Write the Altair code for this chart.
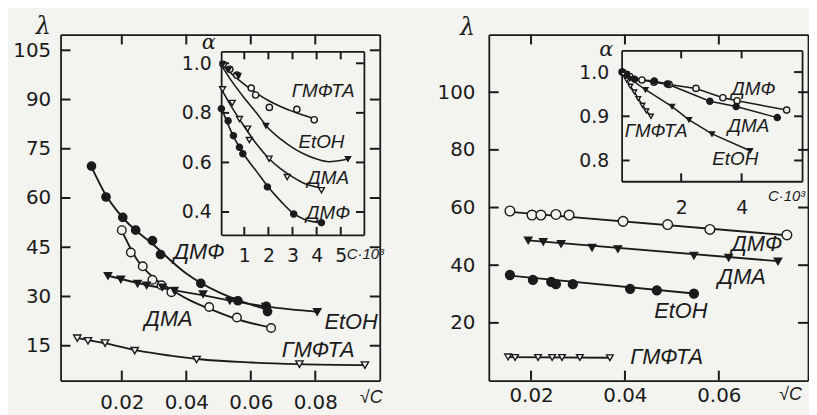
import altair as alt
import pandas as pd

W, H = 808, 407
BG = "#f3f3f0"
INK = "#1b1b1b"
NUM_FONT = "DejaVu Sans"
TXT_FONT = "Liberation Sans Narrow, Liberation Sans, Arial"
GREEK_FONT = "DejaVu Serif"

# ---------------- Panel A (left): lambda vs sqrt(C) ----------------
A_DMF_X = [0.0106, 0.0151, 0.0203, 0.0243, 0.0295, 0.0320, 0.0445, 0.0560, 0.0648, 0.0652]
A_DMF_Y = [69.7, 60.3, 54.1, 50.2, 47.0, 42.8, 34.0, 28.7, 27.0, 25.4]
A_DMA_X = [0.0200, 0.0228, 0.0265, 0.0295, 0.0323, 0.0354, 0.0471, 0.0557, 0.0663]
A_DMA_Y = [50.2, 43.4, 39.2, 35.1, 33.4, 31.3, 26.8, 23.6, 20.4]
A_ETOH_X = [0.0157, 0.0197, 0.0249, 0.0277, 0.0326, 0.0363, 0.0452, 0.0535, 0.0646, 0.0806]
A_ETOH_Y = [36.3, 35.2, 33.9, 33.4, 32.8, 31.8, 30.7, 28.7, 26.9, 25.3]
A_HMPTA_X = [0.0062, 0.0095, 0.0148, 0.0240, 0.0432, 0.0751, 0.0954]
A_HMPTA_Y = [17.3, 16.5, 15.8, 13.5, 10.8, 9.4, 9.1]

# fitted curves
A_DMF_CX = [0.0106, 0.015, 0.020, 0.030, 0.040, 0.050, 0.058, 0.066]
A_DMF_CY = [69.5, 61.0, 54.3, 45.6, 37.0, 31.3, 28.2, 25.8]
A_DMA_CX = [0.0200, 0.0250, 0.0300, 0.0355, 0.0410, 0.0473, 0.0550, 0.0663]
A_DMA_CY = [50.0, 40.8, 35.6, 32.0, 28.9, 26.2, 23.3, 20.5]
A_ETOH_CX = [0.0155, 0.025, 0.035, 0.045, 0.055, 0.065, 0.081]
A_ETOH_CY = [36.4, 34.1, 32.1, 30.4, 28.5, 26.9, 25.3]
A_HMPTA_CX = [0.0060, 0.015, 0.025, 0.035, 0.045, 0.060, 0.075, 0.096]
A_HMPTA_CY = [17.4, 15.7, 13.5, 12.0, 10.8, 9.9, 9.4, 9.1]

A_LABELS = ["ДМФ", "ДМА", "EtOH", "ГМФТА"]
A_LABEL_X = [0.0440, 0.0345, 0.0911, 0.0809]
A_LABEL_Y = [43.4, 23.2, 22.1, 13.8]

# ---------------- Inset of panel A: alpha vs C*10^3 ----------------
IA_HMPTA_X = [0.12, 0.40, 0.69, 1.29, 1.47, 2.04, 3.18, 3.90]
IA_HMPTA_Y = [0.996, 0.976, 0.952, 0.900, 0.872, 0.822, 0.814, 0.772]
IA_ETOH_X = [0.10, 0.35, 0.75, 1.90, 5.30]
IA_ETOH_Y = [0.995, 0.975, 0.950, 0.748, 0.614]
IA_DMA_X = [0.10, 0.50, 0.80, 1.14, 1.21, 2.03, 2.78, 4.20]
IA_DMA_Y = [0.895, 0.840, 0.775, 0.736, 0.690, 0.615, 0.541, 0.488]
IA_DMF_X = [0.05, 0.33, 0.55, 0.80, 0.94, 1.96, 3.05, 4.20]
IA_DMF_Y = [0.817, 0.768, 0.708, 0.661, 0.635, 0.501, 0.392, 0.357]

IA_HMPTA_CX = [0.0, 0.5, 1.0, 1.5, 2.0, 2.5, 3.0, 3.5, 3.9]
IA_HMPTA_CY = [1.0, 0.955, 0.915, 0.880, 0.850, 0.826, 0.806, 0.789, 0.776]
IA_ETOH_CX = [0.0, 0.5, 1.0, 1.5, 2.0, 2.5, 3.0, 3.5, 4.0, 4.5, 5.3]
IA_ETOH_CY = [1.0, 0.925, 0.860, 0.800, 0.738, 0.695, 0.660, 0.633, 0.614, 0.603, 0.614]
IA_DMA_CX = [0.0, 0.5, 1.0, 1.5, 2.0, 2.5, 3.0, 3.5, 4.2]
IA_DMA_CY = [0.905, 0.820, 0.745, 0.675, 0.618, 0.575, 0.542, 0.515, 0.497]
IA_DMF_CX = [0.05, 0.5, 1.0, 1.5, 2.0, 2.5, 3.0, 3.5, 4.2]
IA_DMF_CY = [0.820, 0.715, 0.630, 0.565, 0.500, 0.445, 0.397, 0.370, 0.357]

IA_LABELS = ["ГМФТА", "EtOH", "ДМА", "ДМФ"]
IA_LABEL_X = [4.27, 4.20, 4.48, 4.48]
IA_LABEL_Y = [0.888, 0.681, 0.535, 0.397]

# ---------------- Panel B (right): lambda vs sqrt(C) ----------------
B_DMF_X = [0.0155, 0.0202, 0.0221, 0.0253, 0.0281, 0.0396, 0.0491, 0.0581, 0.0745]
B_DMF_Y = [58.8, 57.4, 57.4, 57.6, 57.4, 55.2, 54.1, 52.4, 50.5]
B_DMA_X = [0.0194, 0.0226, 0.0264, 0.0330, 0.0385, 0.0547, 0.0621, 0.0726]
B_DMA_Y = [48.6, 48.1, 47.4, 46.1, 45.6, 43.3, 42.6, 41.3]
B_ETOH_X = [0.0155, 0.0204, 0.0243, 0.0253, 0.0289, 0.0411, 0.0468, 0.0547]
B_ETOH_Y = [36.6, 34.9, 34.2, 33.4, 33.4, 31.8, 31.3, 30.1]
B_HMPTA_X = [0.0151, 0.0166, 0.0215, 0.0245, 0.0266, 0.0304, 0.0368]
B_HMPTA_Y = [8.2, 8.0, 8.0, 8.0, 8.0, 8.0, 7.9]

B_DMF_CX = [0.0155, 0.0745]
B_DMF_CY = [58.5, 50.4]
B_DMA_CX = [0.0194, 0.0726]
B_DMA_CY = [48.6, 41.4]
B_ETOH_CX = [0.0155, 0.0547]
B_ETOH_CY = [36.4, 30.2]
B_HMPTA_CX = [0.0151, 0.0368]
B_HMPTA_CY = [8.1, 7.9]

B_LABELS = ["ДМФ", "ДМА", "EtOH", "ГМФТА"]
B_LABEL_X = [0.0681, 0.0649, 0.0519, 0.0489]
B_LABEL_Y = [47.4, 35.8, 24.1, 8.3]

# ---------------- Inset of panel B ----------------
IB_DMF_X = [0.05, 0.30, 0.70, 1.10, 1.60, 2.49, 3.38, 3.85, 5.49]
IB_DMF_Y = [1.000, 0.990, 0.982, 0.977, 0.972, 0.963, 0.942, 0.935, 0.914]
IB_DMA_X = [0.05, 0.20, 0.46, 1.11, 1.54, 2.95, 3.82, 5.18]
IB_DMA_Y = [1.000, 0.995, 0.984, 0.980, 0.973, 0.934, 0.922, 0.897]
IB_ETOH_X = [0.05, 0.30, 0.82, 1.70, 2.26, 3.02, 4.28]
IB_ETOH_Y = [1.000, 0.985, 0.960, 0.922, 0.892, 0.860, 0.822]
IB_HMPTA_X = [0.08, 0.20, 0.32, 0.45, 0.58, 0.72, 0.85, 1.00]
IB_HMPTA_Y = [0.995, 0.982, 0.968, 0.955, 0.940, 0.925, 0.912, 0.900]

IB_LABELS = ["ДМФ", "ДМА", "ГМФТА", "EtOH"]
IB_LABEL_X = [4.39, 4.23, 1.17, 3.79]
IB_LABEL_Y = [0.961, 0.879, 0.867, 0.804]

# ---------------- styling / layout ----------------
STYLES = {
    "filled_circle": ("circle", INK),
    "open_circle": ("circle", BG),
    "filled_tri": ("triangle-down", INK),
    "open_tri": ("triangle-down", BG),
}

BOX_A = dict(xdom=[0.001, 0.100], xrng=[53, 375], ydom=[4.4, 109.8], yrng=[374, 25],
             xvals=[0.02, 0.04, 0.06, 0.08], yvals=[15, 30, 45, 60, 75, 90, 105],
             xfmt=".2f", yfmt="d", fs=20, tick=10, xpad=12, ypad=10,
             xtitle="√C", xtx=366, xty=17, ytitle="λ", ytx=-18, yty=17, ysz=24, xsz=18)
BOX_IA = dict(xdom=[0.04, 5.96], xrng=[215, 359], ydom=[0.308, 1.048], yrng=[227, 42],
              xvals=[1, 2, 3, 4, 5], yvals=[0.4, 0.6, 0.8, 1.0],
              xfmt="d", yfmt=".1f", fs=19, tick=8, xpad=12, ypad=10,
              xtitle="C·10³", xtx=360, xty=19, ytitle="α", ytx=-13, yty=33, ysz=21, xsz=15)
BOX_B = dict(xdom=[0.011, 0.079], xrng=[485, 807], ydom=[0, 120], yrng=[374, 25],
             xvals=[0.02, 0.04, 0.06], yvals=[20, 40, 60, 80, 100],
             xfmt=".2f", yfmt="d", fs=20, tick=10, xpad=5, ypad=14,
             xtitle="√C", xtx=789, xty=14, ytitle="λ", ytx=-22, yty=18, ysz=24, xsz=18)
BOX_IB = dict(xdom=[0.03, 6.0], xrng=[619, 801], ydom=[0.753, 1.049], yrng=[173, 41],
              xvals=[2, 4], yvals=[0.8, 0.9, 1.0],
              xfmt="d", yfmt=".1f", fs=19, tick=8, xpad=18, ypad=13,
              xtitle="C·10³", xtx=785, xty=14, ytitle="α", ytx=-16, yty=40, ysz=21, xsz=15)


def axes(box, kind):
    xL, xR = box["xrng"]
    yB, yT = box["yrng"]
    common = dict(grid=False, ticks=False, domainColor=INK, domainWidth=1.8,
                  labelColor=INK, labelFont=NUM_FONT, labelFontSize=box["fs"])
    if kind == "labels":
        ax = alt.Axis(orient="bottom", offset=yB - H, values=box["xvals"], format=box["xfmt"],
                      labelPadding=box["xpad"], title=box["xtitle"],
                      titleX=box["xtx"], titleY=box["xty"], titleAngle=0, titleAlign="center",
                      titleBaseline="middle", titleFont=TXT_FONT, titleFontSize=box["xsz"],
                      titleFontStyle="italic", titleFontWeight="normal", titleColor=INK, **common)
        ay = alt.Axis(orient="left", offset=-xL, values=box["yvals"], format=box["yfmt"],
                      labelPadding=box["ypad"], title=box["ytitle"],
                      titleX=box["ytx"], titleY=box["yty"], titleAngle=0, titleAlign="center",
                      titleBaseline="middle", titleFont=GREEK_FONT, titleFontSize=box["ysz"],
                      titleFontStyle="italic", titleFontWeight="normal", titleColor=INK, **common)
    else:
        ax = alt.Axis(orient="bottom", offset=yT - H, values=box["xvals"], labels=False,
                      title=None, **common)
        ay = alt.Axis(orient="left", offset=-xR, values=box["yvals"], labels=False,
                      title=None, **common)
    return ax, ay


def points_df(specs):
    rows = []
    for name, xs, ys, style, size in specs:
        shape, fill = STYLES[style]
        for x, y in zip(xs, ys):
            rows.append(dict(x=x, y=y, series=name, shape=shape, fill=fill, size=size))
    return pd.DataFrame(rows)


def curves_df(specs):
    rows = []
    for name, xs, ys in specs:
        for i, (x, y) in enumerate(zip(xs, ys)):
            rows.append(dict(x=x, y=y, series=name, i=i))
    return pd.DataFrame(rows)


def ticks_df(box):
    # inward tick segments at the tick values on all four sides of a frame
    x0, x1 = box["xdom"]
    y0, y1 = box["ydom"]
    xL, xR = box["xrng"]
    yB, yT = box["yrng"]
    t = box["tick"]
    dx = t * (x1 - x0) / (xR - xL)
    dy = t * (y1 - y0) / (yB - yT)
    rows = []
    k = 0
    for v in box["xvals"]:
        for a, b in [(y0, y0 + dy), (y1, y1 - dy)]:
            rows += [dict(x=v, y=a, id=k, i=0), dict(x=v, y=b, id=k, i=1)]
            k += 1
    for v in box["yvals"]:
        for a, b in [(x0, x0 + dx), (x1, x1 - dx)]:
            rows += [dict(x=a, y=v, id=k, i=0), dict(x=b, y=v, id=k, i=1)]
            k += 1
    return pd.DataFrame(rows)


def box_layers(box, pts, curves, labels, interp, lab_size, lw):
    xs = alt.Scale(domain=box["xdom"], range=box["xrng"], nice=False, zero=False)
    ys = alt.Scale(domain=box["ydom"], range=box["yrng"], nice=False, zero=False)
    ax1, ay1 = axes(box, "labels")
    ax3, ay3 = axes(box, "far")
    lines = alt.Chart(curves_df(curves)).mark_line(
        color=INK, strokeWidth=lw, interpolate=interp
    ).encode(
        x=alt.X("x:Q", scale=xs, axis=ax1),
        y=alt.Y("y:Q", scale=ys, axis=ay1),
        detail="series:N",
        order="i:Q",
    )
    ticks = alt.Chart(ticks_df(box)).mark_line(
        color=INK, strokeWidth=2.0, interpolate="linear"
    ).encode(
        x=alt.X("x:Q", scale=xs, axis=None),
        y=alt.Y("y:Q", scale=ys, axis=None),
        detail="id:N",
        order="i:Q",
    )
    points = alt.Chart(points_df(pts)).mark_point(
        opacity=1, stroke=INK, strokeWidth=1.4
    ).encode(
        x=alt.X("x:Q", scale=xs, axis=None),
        y=alt.Y("y:Q", scale=ys, axis=None),
        shape=alt.Shape("shape:N", scale=None),
        fill=alt.Fill("fill:N", scale=None),
        size=alt.Size("size:Q", scale=None),
    )
    names, lx, ly = labels
    texts = alt.Chart(pd.DataFrame({"text": names, "x": lx, "y": ly})).mark_text(
        font=TXT_FONT, fontSize=lab_size, fontStyle="italic", color=INK
    ).encode(
        x=alt.X("x:Q", scale=xs, axis=ax3),
        y=alt.Y("y:Q", scale=ys, axis=ay3),
        text="text:N",
    )
    return [lines, ticks, points, texts]


layers = []
layers += box_layers(
    BOX_A,
    [("ДМФ", A_DMF_X, A_DMF_Y, "filled_circle", 70),
     ("ДМА", A_DMA_X, A_DMA_Y, "open_circle", 75),
     ("EtOH", A_ETOH_X, A_ETOH_Y, "filled_tri", 55),
     ("ГМФТА", A_HMPTA_X, A_HMPTA_Y, "open_tri", 55)],
    [("ДМФ", A_DMF_CX, A_DMF_CY), ("ДМА", A_DMA_CX, A_DMA_CY),
     ("EtOH", A_ETOH_CX, A_ETOH_CY), ("ГМФТА", A_HMPTA_CX, A_HMPTA_CY)],
    (A_LABELS, A_LABEL_X, A_LABEL_Y), "monotone", 22, 1.9)
layers += box_layers(
    BOX_IA,
    [("ГМФТА", IA_HMPTA_X, IA_HMPTA_Y, "open_circle", 40),
     ("EtOH", IA_ETOH_X, IA_ETOH_Y, "filled_tri", 28),
     ("ДМА", IA_DMA_X, IA_DMA_Y, "open_tri", 36),
     ("ДМФ", IA_DMF_X, IA_DMF_Y, "filled_circle", 38)],
    [("ГМФТА", IA_HMPTA_CX, IA_HMPTA_CY), ("EtOH", IA_ETOH_CX, IA_ETOH_CY),
     ("ДМА", IA_DMA_CX, IA_DMA_CY), ("ДМФ", IA_DMF_CX, IA_DMF_CY)],
    (IA_LABELS, IA_LABEL_X, IA_LABEL_Y), "monotone", 19, 1.6)
layers += box_layers(
    BOX_B,
    [("ДМФ", B_DMF_X, B_DMF_Y, "open_circle", 95),
     ("ДМА", B_DMA_X, B_DMA_Y, "filled_tri", 55),
     ("EtOH", B_ETOH_X, B_ETOH_Y, "filled_circle", 80),
     ("ГМФТА", B_HMPTA_X, B_HMPTA_Y, "open_tri", 45)],
    [("ДМФ", B_DMF_CX, B_DMF_CY), ("ДМА", B_DMA_CX, B_DMA_CY),
     ("EtOH", B_ETOH_CX, B_ETOH_CY), ("ГМФТА", B_HMPTA_CX, B_HMPTA_CY)],
    (B_LABELS, B_LABEL_X, B_LABEL_Y), "linear", 22, 1.9)
layers += box_layers(
    BOX_IB,
    [("ДМФ", IB_DMF_X, IB_DMF_Y, "open_circle", 40),
     ("ДМА", IB_DMA_X, IB_DMA_Y, "filled_circle", 38),
     ("EtOH", IB_ETOH_X, IB_ETOH_Y, "filled_tri", 24),
     ("ГМФТА", IB_HMPTA_X, IB_HMPTA_Y, "open_tri", 22)],
    [("ДМФ", IB_DMF_X, IB_DMF_Y), ("ДМА", IB_DMA_X, IB_DMA_Y),
     ("EtOH", IB_ETOH_X, IB_ETOH_Y), ("ГМФТА", IB_HMPTA_X, IB_HMPTA_Y)],
    (IB_LABELS, IB_LABEL_X, IB_LABEL_Y), "linear", 19, 1.5)

chart = alt.layer(*layers).resolve_scale(
    x="independent", y="independent"
).resolve_axis(
    x="independent", y="independent"
).properties(
    width=W, height=H, background=BG, padding=0,
    autosize=alt.AutoSizeParams(type="none"),
).configure_view(stroke=None)

chart.save("out.html", embed_options={"renderer": "svg", "actions": False})
